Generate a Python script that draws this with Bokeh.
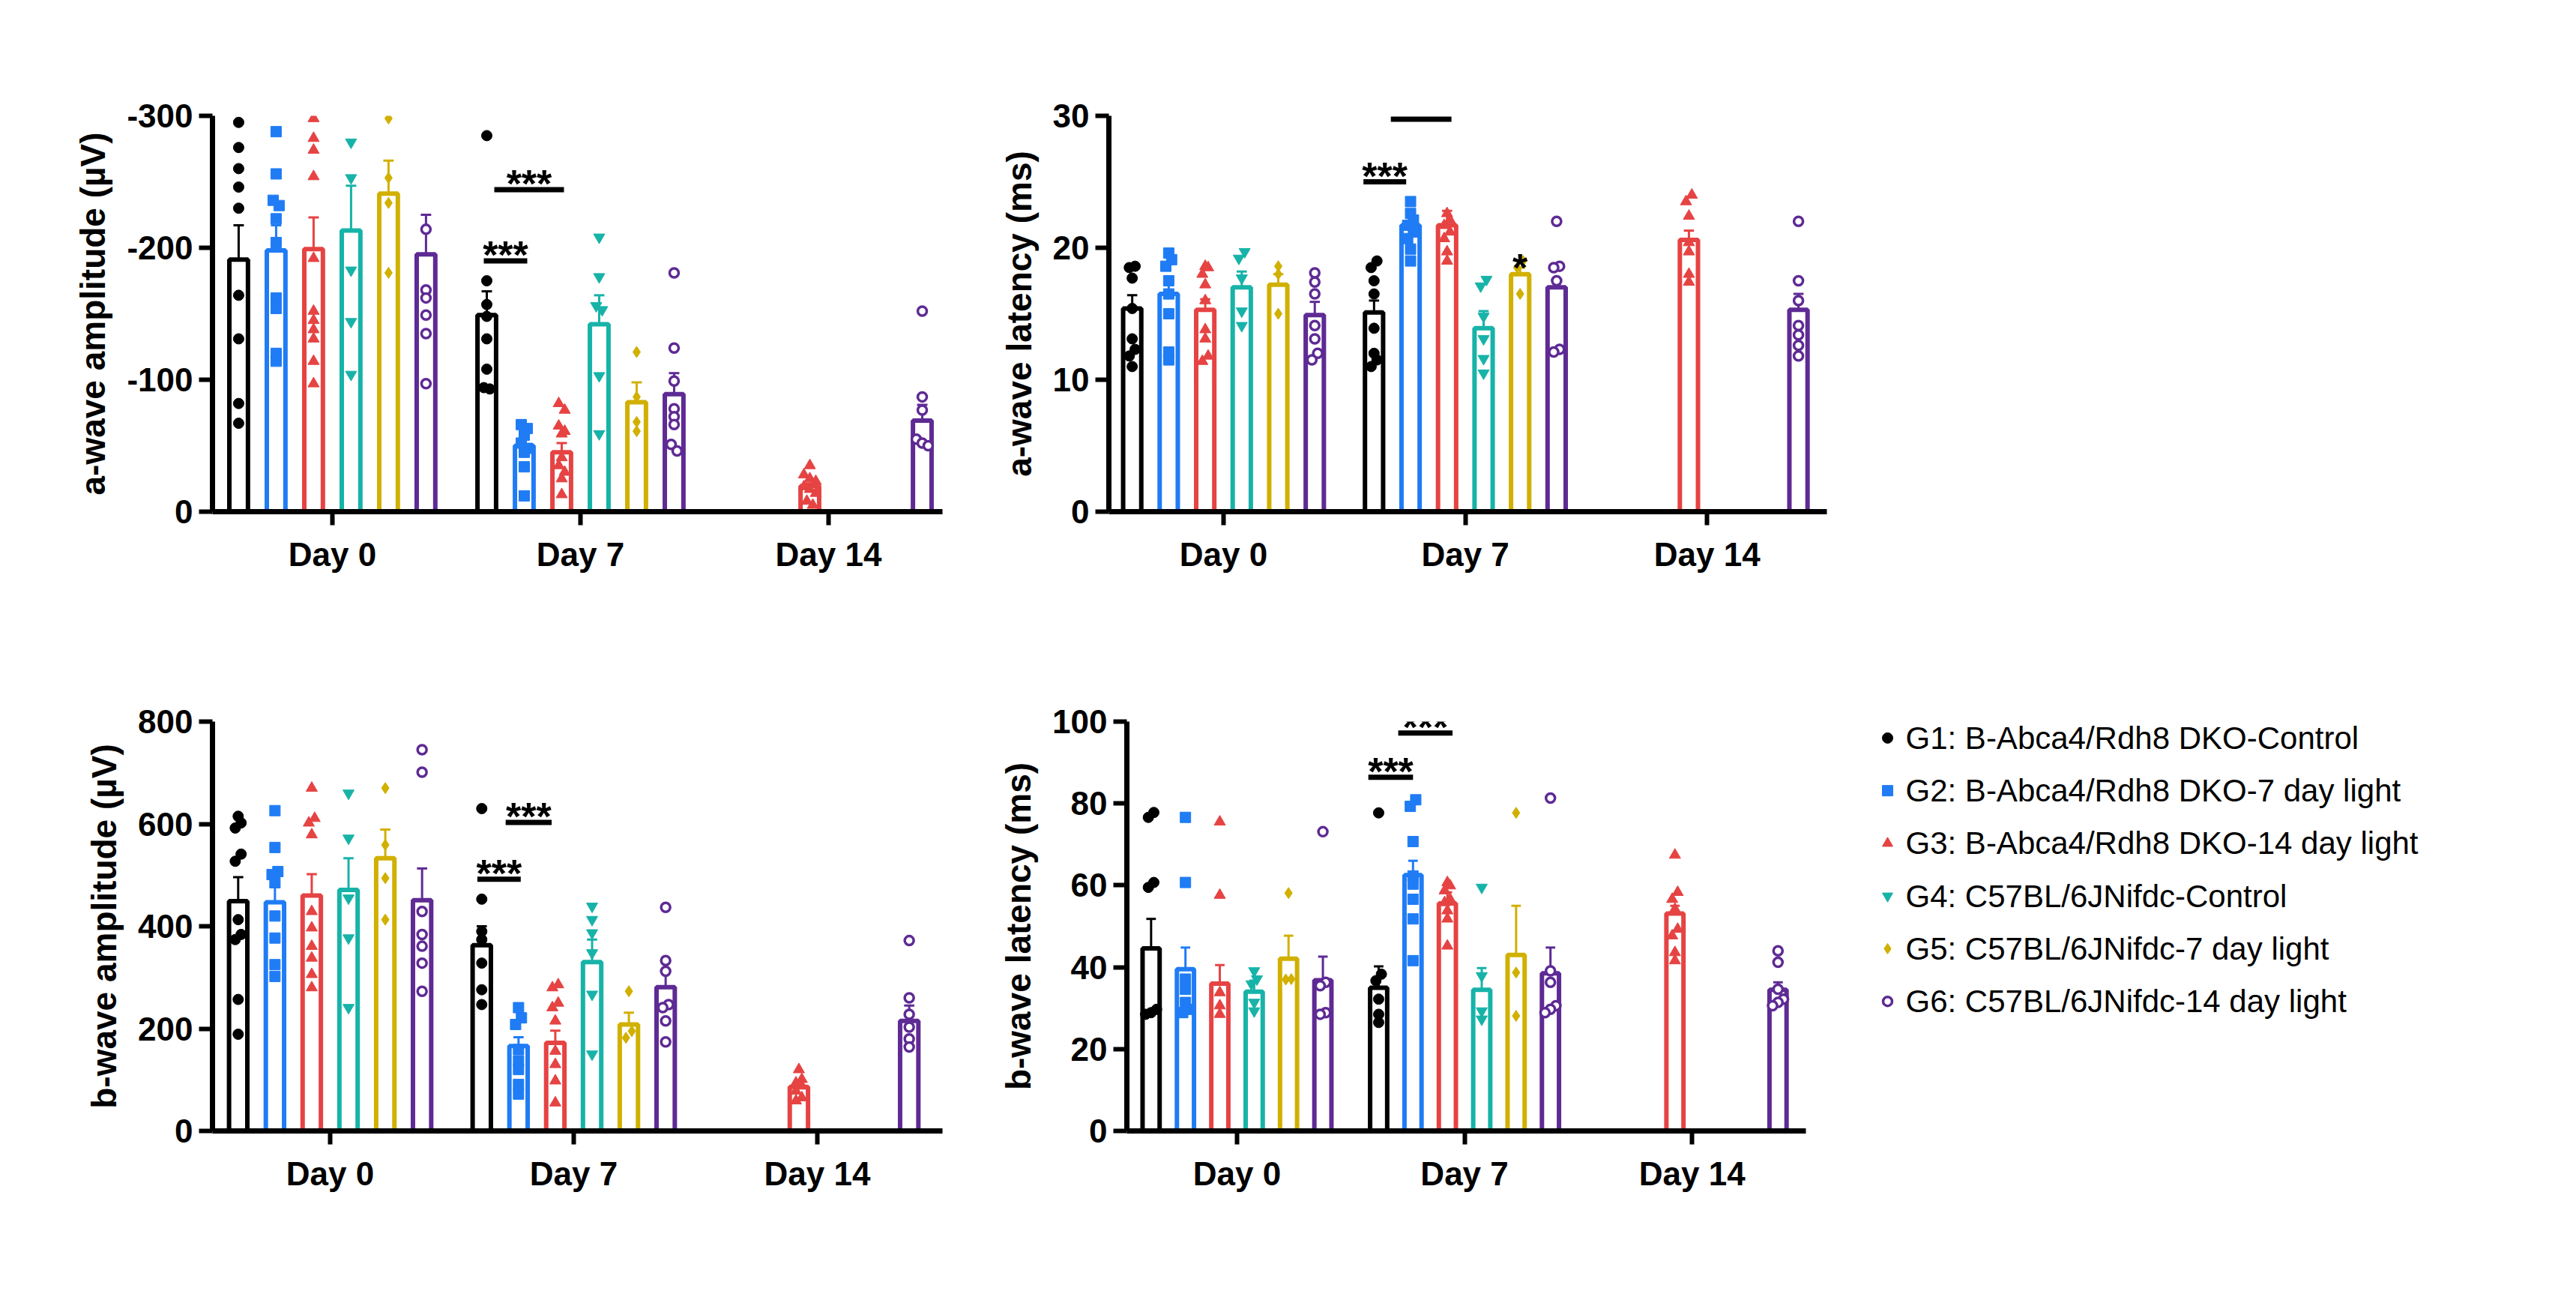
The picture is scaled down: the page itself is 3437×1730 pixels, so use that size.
from bokeh.plotting import figure
from bokeh.layouts import row, column
from bokeh.models import Range1d, FixedTicker
from bokeh.core.properties import value
from bokeh.embed import file_html
from bokeh.resources import INLINE

# ---------------- data ----------------
groups = ["G1: B-Abca4/Rdh8 DKO-Control", "G2: B-Abca4/Rdh8 DKO-7 day light",
          "G3: B-Abca4/Rdh8 DKO-14 day light", "G4: C57BL/6JNifdc-Control",
          "G5: C57BL/6JNifdc-7 day light", "G6: C57BL/6JNifdc-14 day light"]
colors = ["#000000", "#1F7CF5", "#E64343", "#17B3A8", "#D1B000", "#5E2A94"]
markers = ["circle", "square", "triangle", "inverted_triangle", "diamond", "circle"]
days = ["Day 0", "Day 7", "Day 14"]

# a-wave amplitude (µV)
aamp_mean_d0 = [-191, -198, -199, -213, -241, -195]
aamp_sem_d0 = [26, 19, 24, 34, 25, 30]
aamp_pts_d0 = [[-295, -276, -260, -246, -230, -164, -131, -82, -67],
               [-288, -256, -236, -232, -222, -204, -162, -154, -120, -114],
               [-298, -283, -274, -254, -192, -152, -145, -138, -131, -114, -97],
               [-280, -253, -183, -144, -104],
               [-298, -253, -234, -181],
               [-214, -168, -162, -149, -135, -97]]
aamp_mean_d7 = [-149, -50, -45, -142, -83, -89]
aamp_sem_d7 = [18, 7, 7, 22, 15, 16]
aamp_pts_d7 = [[-285, -175, -157, -148, -131, -108, -94, -93],
               [-66, -63, -58, -52, -48, -45, -34, -12],
               [-82, -77, -65, -61, -59, -41, -35, -30, -25, -13],
               [-208, -178, -156, -153, -103, -59],
               [-121, -87, -68, -61],
               [-181, -124, -99, -78, -72, -66, -51, -46]]
aamp_mean_d14 = [None, None, -19.5, None, None, -69]
aamp_sem_d14 = [None, None, 2, None, None, 12]
aamp_pts_d14 = [[], [], [-35, -28, -25, -23, -19, -17, -14, -8, -5], [], [],
                [-152, -87, -77, -55, -52, -50]]

# a-wave latency (ms)
alat_mean_d0 = [15.4, 16.5, 15.3, 17.0, 17.2, 14.9]
alat_sem_d0 = [1.0, 1.0, 0.8, 1.2, 0.8, 1.0]
alat_pts_d0 = [[18.6, 18.5, 17.7, 15.4, 13.1, 12.3, 11.8, 11.0],
               [19.6, 19.1, 18.6, 17.5, 16.5, 15.0, 12.1, 11.5],
               [18.6, 18.5, 18.0, 17.2, 16.0, 13.8, 13.1, 11.8, 11.4],
               [19.7, 19.2, 17.7, 15.2, 14.1],
               [18.6, 18.0, 15.0],
               [18.1, 17.4, 16.5, 14.1, 13.1, 12.0, 11.5]]
alat_mean_d7 = [15.1, 21.7, 21.7, 13.9, 18.0, 17.0]
alat_sem_d7 = [0.9, 0.9, 1.1, 1.3, 0.5, 0.5]
alat_pts_d7 = [[19.0, 18.5, 17.5, 16.5, 13.9, 12.0, 11.5, 11.0],
               [23.5, 22.6, 22.1, 21.7, 21.2, 20.7, 19.9, 19.0],
               [22.6, 22.1, 21.7, 21.2, 20.7, 19.7, 19.0],
               [17.6, 17.1, 14.8, 13.1, 11.6, 10.5],
               [19.0, 18.5, 16.5],
               [22.0, 18.6, 18.5, 17.5, 12.3, 12.1]]
alat_mean_d14 = [None, None, 20.6, None, None, 15.3]
alat_sem_d14 = [None, None, 0.7, None, None, 1.2]
alat_pts_d14 = [[], [], [24.0, 23.5, 22.4, 20.4, 19.7, 18.0, 17.4], [], [],
                [22.0, 17.5, 16.0, 14.1, 13.4, 12.6, 11.8]]

# b-wave amplitude (µV)
bamp_mean_d0 = [449, 447, 460, 471, 533, 451]
bamp_sem_d0 = [47, 34, 42, 62, 56, 62]
bamp_pts_d0 = [[615, 602, 592, 541, 527, 413, 384, 374, 257, 189],
               [626, 554, 507, 501, 485, 420, 377, 325, 302],
               [670, 611, 602, 579, 429, 397, 361, 338, 306, 280],
               [660, 572, 455, 377, 241],
               [670, 559, 494, 413],
               [745, 701, 429, 384, 361, 328, 273]]
bamp_mean_d7 = [363, 166, 172, 330, 208, 281]
bamp_sem_d7 = [37, 17, 24, 44, 23, 31]
bamp_pts_d7 = [[630, 453, 390, 374, 328, 276, 247],
               [241, 221, 208, 159, 137, 120, 91, 72],
               [286, 280, 250, 241, 215, 156, 130, 98, 55],
               [439, 413, 387, 348, 267, 150],
               [273, 195, 182],
               [437, 333, 312, 247, 241, 215, 174]]
bamp_mean_d14 = [None, None, 86, None, None, 215]
bamp_sem_d14 = [None, None, 5, None, None, 30]
bamp_pts_d14 = [[], [], [120, 101, 94, 88, 78, 65, 59], [], [],
                [372, 260, 228, 203, 180, 164]]

# b-wave latency (ms)
blat_mean_d0 = [44.6, 39.5, 36.0, 34.0, 42.1, 36.8]
blat_sem_d0 = [7.2, 5.3, 4.5, 2.7, 5.6, 5.8]
blat_pts_d0 = [[77.8, 76.6, 60.7, 59.5, 29.7, 28.9, 28.5],
               [76.6, 60.7, 37.1, 34.6, 31.4, 29.7, 28.9],
               [75.5, 57.6, 33.8, 30.6, 28.5],
               [39.1, 37.1, 35.9, 31.4, 29.3],
               [58.1, 37.1, 37.0],
               [73.1, 36.3, 35.5, 28.9, 28.5]]
blat_mean_d7 = [35.0, 62.5, 55.6, 34.5, 43.0, 38.5]
blat_sem_d7 = [5.2, 3.5, 2.7, 5.3, 12.0, 6.3]
blat_pts_d7 = [[77.7, 38.3, 36.7, 32.2, 28.5, 26.5],
               [80.9, 79.3, 70.7, 62.3, 60.3, 56.6, 51.8, 41.6],
               [60.7, 59.9, 58.7, 56.6, 55.8, 53.8, 51.8, 45.2],
               [59.5, 37.9, 29.3, 27.3],
               [77.7, 38.7, 28.1],
               [81.3, 39.1, 36.3, 30.6, 29.7, 28.9]]
blat_mean_d14 = [None, None, 53.1, None, None, 34.5]
blat_sem_d14 = [None, None, 1.9, None, None, 1.8]
blat_pts_d14 = [[], [], [67.4, 58.3, 56.6, 54.2, 49.3, 47.7, 43.6, 41.6], [], [],
                [44.0, 41.2, 34.6, 32.2, 31.4, 30.6]]

FONT = "Liberation Sans"
S = 0.151   # slot spacing (data units)
BW = 0.075  # bar width


def jitter(vals, span):
    """spread nearly equal values sideways so they do not overlap"""
    order = sorted(range(len(vals)), key=lambda i: vals[i])
    offs = [0.0] * len(vals)
    cluster = []

    def flush(cl):
        n = min(len(cl), 3)
        for k, i in enumerate(cl):
            offs[i] = ((k % 3) - (n - 1) / 2) * 0.024
    for i in order:
        if cluster and abs(vals[i] - vals[cluster[0]]) > span * 0.018:
            flush(cluster)
            cluster = []
        cluster.append(i)
    if cluster:
        flush(cluster)
    return offs


def panel(means, sems, pts, yr, ticks, ylabel, sig, stars_single,
          xr, width, height, bl, br, bt, bb):
    p = figure(width=width, height=height, x_range=Range1d(*xr), y_range=Range1d(*yr),
               output_backend="svg", toolbar_location=None,
               min_border_left=bl, min_border_right=br, min_border_top=bt, min_border_bottom=bb)
    p.outline_line_color = None
    p.grid.visible = False
    span = abs(yr[1] - yr[0])
    for d in range(3):
        for g in range(6):
            m = means[d][g]
            if m is None:
                continue
            x = d + (g - 2.5) * S
            c = colors[g]
            p.vbar(x=[x], top=[m], bottom=[0], width=BW, fill_color="white",
                   line_color=c, line_width=6)
            sgn = 1 if m >= 0 else -1
            top = m + sgn * sems[d][g]
            p.segment(x0=[x], y0=[m], x1=[x], y1=[top], line_color=c, line_width=3)
            p.segment(x0=[x - BW * 0.28], y0=[top], x1=[x + BW * 0.28], y1=[top],
                      line_color=c, line_width=3)
            vals = pts[d][g]
            offs = jitter(vals, span)
            xs = [x + o for o in offs]
            if g == 5:
                p.scatter(xs, vals, marker="circle", size=12, fill_color="white",
                          line_color=c, line_width=3.5)
            else:
                sz = 14 if g in (0, 1) else 15
                p.scatter(xs, vals, marker=markers[g], size=sz, fill_color=c, line_color=c)
    for (u0, u1, yl) in sig:
        x0 = 1 + (u0 - 2.5) * S
        x1 = 1 + (u1 - 2.5) * S
        p.segment(x0=[x0], y0=[yl], x1=[x1], y1=[yl], line_color="black", line_width=7)
        p.text(x=[(x0 + x1) / 2], y=[yl], text=["***"], text_align="center",
               text_baseline="alphabetic", y_offset=-8, text_font=value(FONT),
               text_font_style="bold", text_font_size="52px", text_color="black")
    for (u, yv) in stars_single:
        p.text(x=[1 + (u - 2.5) * S], y=[yv], text=["*"], text_align="center",
               text_baseline="alphabetic", text_font=value(FONT),
               text_font_style="bold", text_font_size="52px", text_color="black")
    xa = p.xaxis[0]
    xa.ticker = FixedTicker(ticks=[0, 1, 2])
    xa.major_label_overrides = {0: days[0], 1: days[1], 2: days[2]}
    ya = p.yaxis[0]
    ya.ticker = FixedTicker(ticks=ticks)
    ya.major_label_overrides = {t: str(t) for t in ticks}
    ya.axis_label = ylabel
    for ax in (xa, ya):
        ax.axis_line_width = 7
        ax.axis_line_color = "black"
        ax.major_tick_line_width = 6
        ax.major_tick_out = 18
        ax.major_tick_in = 0
        ax.minor_tick_line_color = None
        ax.major_label_text_font = FONT
        ax.major_label_text_font_style = "bold"
        ax.major_label_text_font_size = "44px"
        ax.major_label_text_color = "black"
        ax.axis_label_text_font = FONT
        ax.axis_label_text_font_style = "bold"
        ax.axis_label_text_font_size = "46px"
        ax.axis_label_text_color = "black"
    xa.major_label_standoff = 14
    ya.major_label_standoff = 8
    ya.axis_label_standoff = 16
    return p


f1 = panel([aamp_mean_d0, aamp_mean_d7, aamp_mean_d14], [aamp_sem_d0, aamp_sem_d7, aamp_sem_d14],
           [aamp_pts_d0, aamp_pts_d7, aamp_pts_d14], (0, -300), [0, -100, -200, -300],
           "a-wave amplitude (µV)", [(-0.08, 1.08, -190), (0.2, 2.06, -244)], [],
           (-0.483, 2.459), 1330, 820, 283, 73, 140, 138)
f2 = panel([alat_mean_d0, alat_mean_d7, alat_mean_d14], [alat_sem_d0, alat_sem_d7, alat_sem_d14],
           [alat_pts_d0, alat_pts_d7, alat_pts_d14], (0, 30), [0, 10, 20, 30],
           "a-wave latency (ms)", [(-0.29, 0.88, 25.0), (0.46, 2.12, 29.75)], [(4, 18.5)],
           (-0.474, 2.495), 1142, 820, 148, 35, 154, 120)
f3 = panel([bamp_mean_d0, bamp_mean_d7, bamp_mean_d14], [bamp_sem_d0, bamp_sem_d7, bamp_sem_d14],
           [bamp_pts_d0, bamp_pts_d7, bamp_pts_d14], (0, 800), [0, 200, 400, 600, 800],
           "b-wave amplitude (µV)", [(-0.12, 1.06, 492), (0.65, 1.9, 603)], [],
           (-0.483, 2.514), 1330, 892, 283, 73, 139, 204)
f4 = panel([blat_mean_d0, blat_mean_d7, blat_mean_d14], [blat_sem_d0, blat_sem_d7, blat_sem_d14],
           [blat_pts_d0, blat_pts_d7, blat_pts_d14], (0, 100), [0, 20, 40, 60, 80, 100],
           "b-wave latency (ms)", [(-0.3, 1.0, 86.4), (0.57, 2.15, 97.2)], [],
           (-0.484, 2.50), 1142, 892, 148, 63, 142, 202)

# legend panel (its frame lines up with the b-wave latency frame: 548 px tall)
leg = figure(width=940, height=892, x_range=Range1d(0, 940), y_range=Range1d(548, 0),
             output_backend="svg", toolbar_location=None,
             min_border_left=0, min_border_right=0, min_border_top=142, min_border_bottom=202,
             x_axis_location=None, y_axis_location=None)
leg.outline_line_color = None
leg.grid.visible = False
for g in range(6):
    yy = 22 + g * 70.5
    if g == 5:
        leg.scatter([46], [yy], marker="circle", size=12, fill_color="white",
                    line_color=colors[g], line_width=3.5)
    else:
        leg.scatter([46], [yy], marker=markers[g], size=14, fill_color=colors[g],
                    line_color=colors[g])
    leg.text(x=[70], y=[yy], text=[groups[g]], text_baseline="middle", text_align="left",
             text_font=value(FONT), text_font_size="42px", text_color="black")

layout = column(row(f1, f2), row(f3, f4, leg))
open("out.html", "w").write(file_html(layout, INLINE))
